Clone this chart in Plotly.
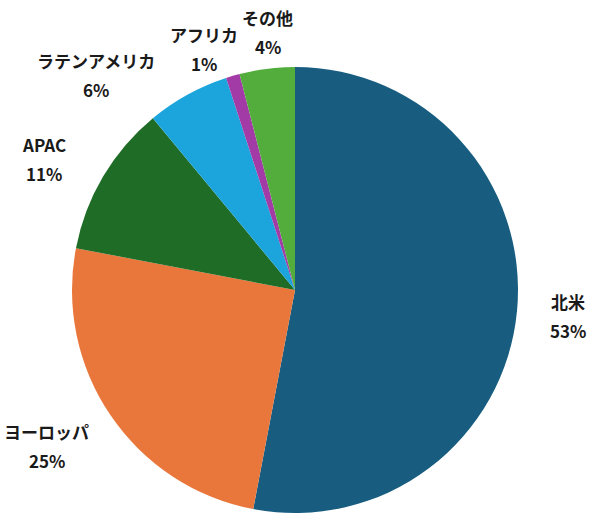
import math
import plotly.graph_objects as go

labels = ["北米", "ヨーロッパ", "APAC", "ラテンアメリカ", "アフリカ", "その他"]
values = [53, 25, 11, 6, 1, 4]
colors = ["#185d80", "#e9763a", "#1f6c27", "#1ca4dc", "#a23ba6", "#52ad3d"]

W, H = 590, 516
CX, CY, R = 295, 290, 223
# label placement: radial factor and pixel nudges (layout only)
radial = 1.22
nudges = [(2, 0), (-23, 3), (-17, 7), (-68, 23), (-15, 20), (7, 12)]
line_gap = 29

fig = go.Figure(go.Pie(
    labels=labels,
    values=values,
    sort=False,
    direction="clockwise",
    rotation=0,
    marker=dict(colors=colors, line=dict(width=0)),
    textinfo="none",
    hoverinfo="label+percent",
    showlegend=False,
    domain=dict(x=[(CX - R) / W, (CX + R) / W], y=[1 - (CY + R) / H, 1 - (CY - R) / H]),
))

total = sum(values)
cum = 0
annotations = []
font = dict(family="Noto Sans CJK JP", size=17, color="#1a1a1a")
for lab, v, (nx, ny) in zip(labels, values, nudges):
    mid = (cum + v / 2) / total * 2 * math.pi
    cum += v
    px = CX + radial * R * math.sin(mid) + nx
    py = CY - radial * R * math.cos(mid) + ny
    pct = f"{round(v / total * 100)}%"
    for txt, oy in ((lab, -line_gap / 2), (pct, line_gap / 2)):
        annotations.append(dict(
            x=px / W, y=1 - (py + oy) / H, xref="paper", yref="paper",
            text=f"<b>{txt}</b>", showarrow=False, font=font,
            xanchor="center", yanchor="middle",
        ))

fig.update_layout(
    width=W, height=H,
    margin=dict(l=0, r=0, t=0, b=0),
    paper_bgcolor="white",
    plot_bgcolor="white",
    annotations=annotations,
)

fig.write_html("out.html")
